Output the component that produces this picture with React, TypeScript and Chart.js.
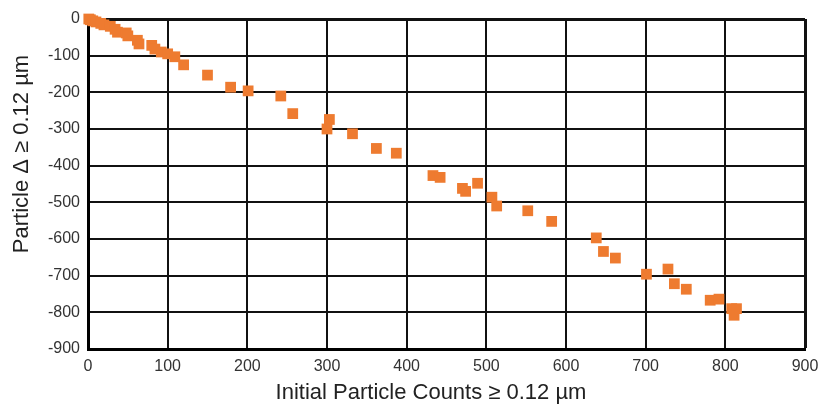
import React, { useEffect, useRef } from "react";
import { Chart, registerables } from "chart.js";

Chart.register(...registerables);

const initialCounts = [
  1, 3, 6, 10, 16, 20, 28, 34, 37, 48, 50, 62, 64, 80, 84, 92, 100, 109, 120,
  150, 179, 201, 242, 257, 303, 300, 332, 362, 387, 433, 442, 470, 474, 489,
  507, 513, 552, 582, 638, 647, 662, 701, 728, 736, 751, 781, 792, 808, 814, 811,
];
const particleDelta = [
  0, -2, -5, -8, -12, -16, -20, -28, -36, -38, -46, -58, -68, -72, -82, -90,
  -95, -103, -125, -153, -186, -196, -210, -258, -274, -300, -313, -353, -366,
  -427, -432, -462, -470, -448, -486, -510, -523, -552, -597, -634, -652, -696,
  -682, -722, -737, -767, -764, -790, -790, -808,
];
const xTitle = "Initial Particle Counts \u2265 0.12 \u00b5m";
const yTitle = "Particle \u0394 \u2265 0.12 \u00b5m";
const xRange = [0, 900];
const yRange = [-900, 0];
const tickStep = 100;

const FONT = '"Liberation Sans", Arial, Helvetica, sans-serif';

export default function App() {
  const ref = useRef<HTMLCanvasElement | null>(null);

  useEffect(() => {
    if (!ref.current) return;
    const points = initialCounts.map((x, i) => ({ x, y: particleDelta[i] }));

    const titlePlugin = {
      id: "axisTitles",
      afterDraw(chart: any) {
        const ctx = chart.ctx;
        ctx.save();
        ctx.fillStyle = "#222";
        ctx.font = `22px ${FONT}`;
        ctx.textAlign = "center";
        ctx.textBaseline = "middle";
        ctx.fillText(xTitle, 431, 393);
        ctx.translate(22, 154);
        ctx.rotate(-Math.PI / 2);
        ctx.fillText(yTitle, 0, 0);
        ctx.restore();
      },
    };

    const chart = new Chart(ref.current, {
      type: "scatter",
      data: {
        datasets: [
          {
            data: points,
            pointStyle: "rect",
            pointRadius: 7.6,
            pointHoverRadius: 7.6,
            backgroundColor: "#EE7B30",
            borderColor: "#EE7B30",
            borderWidth: 0,
            clip: false as any,
          },
        ],
      },
      options: {
        animation: false,
        responsive: false,
        maintainAspectRatio: false,
        layout: { padding: { top: 19, right: 26, left: 0, bottom: 0 } },
        plugins: {
          legend: { display: false },
          tooltip: { enabled: false },
        },
        scales: {
          x: {
            type: "linear",
            min: xRange[0],
            max: xRange[1],
            afterFit: (s: any) => {
              s.height = 58;
            },
            ticks: {
              stepSize: tickStep,
              padding: 8,
              color: "#333",
              font: { family: FONT, size: 16 },
              maxRotation: 0,
            },
            grid: {
              color: "#111",
              lineWidth: (c: any) => (c.tick && c.tick.value === xRange[1] ? 3 : 2),
              drawTicks: false,
            },
            border: { display: true, color: "#000", width: 3 },
            title: { display: false },
          },
          y: {
            type: "linear",
            min: yRange[0],
            max: yRange[1],
            afterFit: (s: any) => {
              s.width = 88;
            },
            ticks: {
              stepSize: tickStep,
              padding: 8,
              color: "#333",
              font: { family: FONT, size: 16 },
            },
            grid: {
              color: "#111",
              lineWidth: (c: any) => (c.tick && c.tick.value === yRange[1] ? 3 : 2),
              drawTicks: false,
            },
            border: { display: true, color: "#000", width: 3 },
            title: { display: false },
          },
        },
      },
      plugins: [titlePlugin],
    });
    return () => chart.destroy();
  }, []);

  return (
    <div style={{ position: "fixed", left: 0, top: 0, width: 831, height: 407, background: "#fff" }}>
      <canvas ref={ref} width={831} height={407} style={{ width: 831, height: 407 }} />
    </div>
  );
}
